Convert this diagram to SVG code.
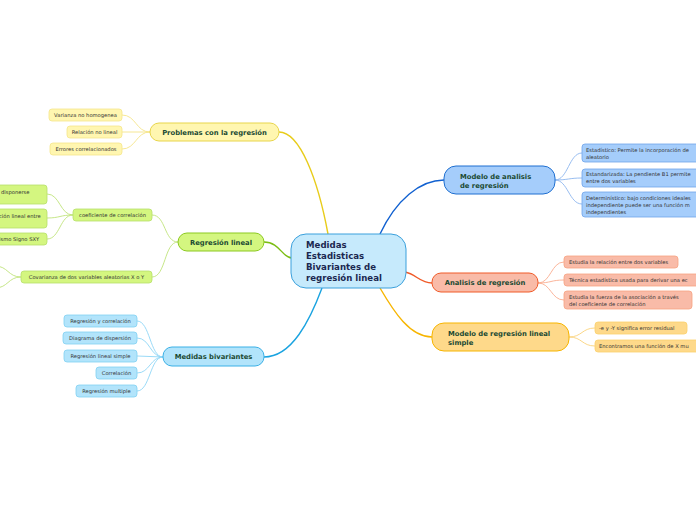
<svg xmlns="http://www.w3.org/2000/svg" width="696" height="520" viewBox="0 0 696 520">
<style>
.main{font-family:"DejaVu Sans",sans-serif;font-weight:bold;font-size:6.8px;fill:#1b4a33}
.sub{font-family:"DejaVu Sans",sans-serif;font-size:5.2px;fill:#333}
.ctr{font-family:"DejaVu Sans",sans-serif;font-weight:bold;font-size:8.6px;fill:#1b2850}
.c{fill:none}
</style>
<rect width="696" height="520" fill="#fff"/>
<g id="connectors" class="c">
<path d="M279,132 C300,132 318,180 328,234" stroke="#e8cc1a" stroke-width="1.4"/>
<path d="M264,242 C280,242 282,258 292,258" stroke="#7bbd12" stroke-width="1.4"/>
<path d="M264,357 C292,357 310,320 322,288" stroke="#1aa3e0" stroke-width="1.4"/>
<path d="M444,180 C420,180 396,200 380,234" stroke="#1060d0" stroke-width="1.4"/>
<path d="M432,283 C420,283 416,274 405,272" stroke="#f05a28" stroke-width="1.4"/>
<path d="M432,337 C410,337 394,312 380,288" stroke="#f7b500" stroke-width="1.4"/>
<g stroke="#f5e488" stroke-width="0.9">
<path d="M150,132 C136,132 136,115 122,115"/>
<path d="M150,132 L122,132"/>
<path d="M150,132 C136,132 136,149 122,149"/>
</g>
<g stroke="#bfe37a" stroke-width="0.9">
<path d="M178,242 C164,242 166,215 152,215"/>
<path d="M178,242 C164,242 166,277 152,277"/>
<path d="M73,215 C60,215 60,194 47,194"/>
<path d="M73,215 C60,215 60,218 47,218"/>
<path d="M73,215 C60,215 60,239 47,239"/>
<path d="M21,277 C8,277 8,266 -5,266"/>
<path d="M21,277 C8,277 8,288 -5,288"/>
</g>
<g stroke="#8fd6f6" stroke-width="0.9">
<path d="M163,357 C150,357 150,321 137,321"/>
<path d="M163,357 C150,357 150,338 137,338"/>
<path d="M163,357 L137,356"/>
<path d="M163,357 C150,357 150,373 137,373"/>
<path d="M163,357 C150,357 150,391 137,391"/>
</g>
<g stroke="#8cb6ee" stroke-width="0.9">
<path d="M555,180 C568,180 569,153 582,153"/>
<path d="M555,180 C568,180 569,178 582,178"/>
<path d="M555,180 C568,180 569,204 582,204"/>
</g>
<g stroke="#f9ad90" stroke-width="0.9">
<path d="M538,283 C551,283 551,262 564,262"/>
<path d="M538,283 C551,283 551,280 564,280"/>
<path d="M538,283 C551,283 551,300 564,300"/>
</g>
<g stroke="#fbd27a" stroke-width="0.9">
<path d="M569,337 C582,337 582,328 595,328"/>
<path d="M569,337 C582,337 582,346 595,346"/>
</g>
</g>
<g id="central">
<rect x="291" y="234" width="115" height="54" rx="15" fill="#c6eafc" stroke="#3aa0dc" stroke-width="1"/>
<text class="ctr" x="306" y="248">Medidas</text>
<text class="ctr" x="306" y="259">Estadisticas</text>
<text class="ctr" x="306" y="270">Bivariantes de</text>
<text class="ctr" x="306" y="281">regresión lineal</text>
</g>
<g id="problemas">
<rect x="150" y="123" width="129" height="18" rx="9" fill="#fff6b0" stroke="#e8d54a" stroke-width="1"/>
<text class="main" x="214.5" y="134.5" text-anchor="middle">Problemas con la regresión</text>
<g fill="#fff6b0" stroke="#f5e68a" stroke-width="0.8">
<rect x="49" y="109" width="73" height="12" rx="3"/>
<rect x="67" y="126" width="55" height="12" rx="3"/>
<rect x="50" y="143" width="72" height="12" rx="3"/>
</g>
<text class="sub" x="85.5" y="117" text-anchor="middle">Varianza no homogenea</text>
<text class="sub" x="94.5" y="134" text-anchor="middle">Relación no lineal</text>
<text class="sub" x="86" y="151" text-anchor="middle">Errores correlacionados</text>
</g>
<g id="regresion-lineal">
<rect x="178" y="233" width="86" height="18" rx="9" fill="#d4f680" stroke="#8cc920" stroke-width="1"/>
<text class="main" x="221" y="244.5" text-anchor="middle">Regresión lineal</text>
<g fill="#d4f680" stroke="#b6e06a" stroke-width="0.8">
<rect x="73" y="209" width="79" height="12" rx="3"/>
<rect x="21" y="271" width="131" height="12" rx="3"/>
<rect x="-10" y="185" width="57" height="19" rx="3"/>
<rect x="-10" y="209" width="57" height="19" rx="3"/>
<rect x="-10" y="233" width="57" height="12" rx="3"/>
</g>
<text class="sub" x="112.5" y="217" text-anchor="middle">coeficiente de correlación</text>
<text class="sub" x="86.5" y="279" text-anchor="middle">Covarianza de dos variables aleatorias X o Y</text>
<text class="sub" x="1" y="193.5">disponerse</text>
<text class="sub" x="-1" y="217.5">ción lineal entre</text>
<text class="sub" x="-1" y="241">ismo Signo SXY</text>
</g>
<g id="medidas-bivariantes">
<rect x="163" y="347" width="101" height="19" rx="9" fill="#b2e4fb" stroke="#3ab0e6" stroke-width="1"/>
<text class="main" x="213.5" y="359" text-anchor="middle">Medidas bivariantes</text>
<g fill="#b2e4fb" stroke="#80d0f2" stroke-width="0.8">
<rect x="64" y="315" width="73" height="12" rx="3"/>
<rect x="63" y="332" width="74" height="12" rx="3"/>
<rect x="64" y="350" width="73" height="12" rx="3"/>
<rect x="96" y="367" width="41" height="12" rx="3"/>
<rect x="76" y="385" width="61" height="12" rx="3"/>
</g>
<text class="sub" x="100.5" y="323" text-anchor="middle">Regresión y correlación</text>
<text class="sub" x="100" y="340" text-anchor="middle">Diagrama de dispersión</text>
<text class="sub" x="100.5" y="358" text-anchor="middle">Regresión lineal simple</text>
<text class="sub" x="116.5" y="375" text-anchor="middle">Correlación</text>
<text class="sub" x="106.5" y="393" text-anchor="middle">Regresión multiple</text>
</g>
<g id="modelo-analisis">
<rect x="444" y="166" width="111" height="28" rx="12" fill="#a5cdfb" stroke="#1f6fd0" stroke-width="1"/>
<text class="main" x="460" y="178.5">Modelo de analisis</text>
<text class="main" x="460" y="187.5">de regresión</text>
<g fill="#a5cdfb" stroke="#6fa3ea" stroke-width="0.8">
<rect x="582" y="144" width="130" height="18" rx="3"/>
<rect x="582" y="169" width="130" height="18" rx="3"/>
<rect x="582" y="192" width="130" height="25" rx="3"/>
</g>
<text class="sub" x="586" y="151.5">Estadístico: Permite la incorporación de</text>
<text class="sub" x="586" y="158.5">aleatorio</text>
<text class="sub" x="586" y="176">Estandarizada: La pendiente B1 permite</text>
<text class="sub" x="586" y="183">entre dos variables</text>
<text class="sub" x="586" y="199.5">Determinístico: bajo condiciones ideales</text>
<text class="sub" x="586" y="206.5">independiente puede ser una función m</text>
<text class="sub" x="586" y="213.5">independientes</text>
</g>
<g id="analisis">
<rect x="432" y="273" width="106" height="19" rx="9" fill="#f9bba8" stroke="#f05a28" stroke-width="1"/>
<text class="main" x="485" y="285" text-anchor="middle">Analisis de regresión</text>
<g fill="#f9bba8" stroke="#f7a282" stroke-width="0.8">
<rect x="564" y="256" width="114" height="12" rx="3"/>
<rect x="564" y="274" width="140" height="12" rx="3"/>
<rect x="564" y="291" width="128" height="18" rx="3"/>
</g>
<text class="sub" x="569" y="264">Estudia la relación entre dos variables</text>
<text class="sub" x="569" y="282">Técnica estadística usada para derivar una ec</text>
<text class="sub" x="569" y="298.5">Estudia la fuerza de la asociación a través</text>
<text class="sub" x="569" y="305.5">del coeficiente de correlación</text>
</g>
<g id="modelo-simple">
<rect x="432" y="323" width="137" height="28" rx="12" fill="#fed98a" stroke="#f7b500" stroke-width="1"/>
<text class="main" x="448" y="335.5">Modelo de regresión lineal</text>
<text class="main" x="448" y="344.5">simple</text>
<g fill="#fed98a" stroke="#fbd06c" stroke-width="0.8">
<rect x="595" y="322" width="92" height="12" rx="3"/>
<rect x="595" y="340" width="110" height="12" rx="3"/>
</g>
<text class="sub" x="599" y="330">-e y -Y significa error residual</text>
<text class="sub" x="599" y="348">Encontramos una función de X mu</text>
</g>
</svg>
